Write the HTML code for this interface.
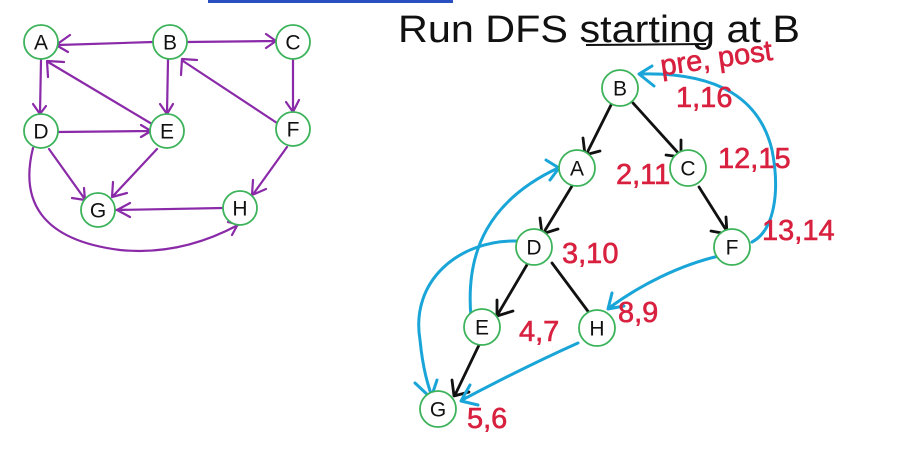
<!DOCTYPE html>
<html><head><meta charset="utf-8"><style>
html,body{margin:0;padding:0;background:#fff;}
svg{display:block;}
.n{fill:#fff;stroke:#3cb35a;stroke-width:1.8;}
.t{font-family:"Liberation Sans",sans-serif;font-size:21px;fill:#111;text-anchor:middle;dominant-baseline:central;}
.p{fill:none;stroke:#8a2aa8;stroke-width:2.2;stroke-linecap:round;stroke-linejoin:round;}
.k{fill:none;stroke:#111;stroke-width:2.8;stroke-linecap:round;stroke-linejoin:round;}
.b{fill:none;stroke:#1aa5d8;stroke-width:3;stroke-linecap:round;stroke-linejoin:round;}
.r{font-family:"Liberation Sans",sans-serif;font-size:29px;fill:#d8203f;stroke:#d8203f;stroke-width:0.6;}
</style></head><body>
<svg width="897" height="449" viewBox="0 0 897 449" xmlns="http://www.w3.org/2000/svg">
<rect x="208" y="0" width="245" height="3" fill="#2a4fc0"/>
<path class="p" d="M153,42 L58,45 M70,35 L56,45 L68,52"/>
<path class="p" d="M187,42 L275,41 M266,34 L276,41 L266,48"/>
<path class="p" d="M41,60 L40,113 M33,104 L40,114 L46,106"/>
<path class="p" d="M168,60 L167,113 M160,104 L167,114 L173,104"/>
<path class="p" d="M293,60 L293,111 M286,102 L293,112 L299,100"/>
<path class="p" d="M152,124 L48,62 M48,77 L47,61 L64,62"/>
<path class="p" d="M277,123 L183,61 M181,75 L182,59 L197,60"/>
<path class="p" d="M58,132 L150,131 M141,125 L151,131 L141,137"/>
<path class="p" d="M49,149 L84,198 M72,198 L85,200 L84,188"/>
<path class="p" d="M157,149 L114,195 M113,182 L112,197 L127,193"/>
<path class="p" d="M287,147 L254,193 M253,180 L252,195 L266,189"/>
<path class="p" d="M223,208 L116,210 M130,203 L117,210 L130,217"/>
<path class="p" d="M33,148 C20,200 40,240 120,250 C170,255 210,240 238,225 M228,222 L238,224 L232,235"/>
<g>
<circle class="n" cx="41" cy="42" r="17"/><text class="t" x="41" y="43">A</text>
<circle class="n" cx="170" cy="42" r="17"/><text class="t" x="170" y="43">B</text>
<circle class="n" cx="293" cy="42" r="17"/><text class="t" x="293" y="43">C</text>
<circle class="n" cx="41" cy="131" r="17"/><text class="t" x="41" y="132">D</text>
<circle class="n" cx="167" cy="131" r="17"/><text class="t" x="167" y="132">E</text>
<circle class="n" cx="293" cy="129" r="17"/><text class="t" x="293" y="130">F</text>
<circle class="n" cx="98" cy="210" r="17"/><text class="t" x="98" y="211">G</text>
<circle class="n" cx="240" cy="208" r="17"/><text class="t" x="240" y="209">H</text>
</g>
<text x="398" y="42" font-family="Liberation Sans,sans-serif" font-size="38" fill="#111" textLength="402" lengthAdjust="spacingAndGlyphs">Run DFS starting at B</text>
<line x1="586" y1="45" x2="706" y2="44" stroke="#111" stroke-width="2"/>
<path class="k" d="M611,105 L587,153 M583,138 L585,155 L600,151"/>
<path class="k" d="M633,103 L680,155 M681,140 L681,157 L666,155"/>
<path class="k" d="M572,186 L544,232 M540,218 L542,234 L558,229"/>
<path class="k" d="M699,187 L728,233 M726,217 L727,234 L711,231"/>
<path class="k" d="M528,263 L498,314 M497,300 L497,316 L513,311"/>
<path class="k" d="M552,263 L590,314"/>
<path class="k" d="M479,345 L455,395 M452,380 L454,396 L469,392"/>
<path class="b" d="M752,242 C775,230 780,190 772,150 C760,100 720,72 640,74 M652,66 L639,74 L654,86"/>
<path class="b" d="M471,317 C465,250 490,200 558,168 M546,160 L559,168 L550,180"/>
<path class="b" d="M516,241 C460,240 410,280 420,340 C423,370 428,385 432,397 M415,383 L431,398 L437,380"/>
<path class="b" d="M719,256 C680,265 640,285 609,308 M612,293 L608,309 L624,306"/>
<path class="b" d="M578,343 C540,360 500,380 462,400 M470,385 L461,401 L478,405"/>
<g>
<circle class="n" cx="620" cy="88" r="18"/><text class="t" x="620" y="89">B</text>
<circle class="n" cx="577" cy="168" r="18"/><text class="t" x="577" y="169">A</text>
<circle class="n" cx="688" cy="168" r="18"/><text class="t" x="688" y="169">C</text>
<circle class="n" cx="534" cy="247" r="18"/><text class="t" x="534" y="248">D</text>
<circle class="n" cx="732" cy="247" r="18"/><text class="t" x="732" y="248">F</text>
<circle class="n" cx="482" cy="327" r="18"/><text class="t" x="482" y="328">E</text>
<circle class="n" cx="597" cy="328" r="18"/><text class="t" x="597" y="329">H</text>
<circle class="n" cx="438" cy="409" r="18"/><text class="t" x="438" y="410">G</text>
</g>
<text class="r" x="660" y="70" font-size="23" transform="rotate(-8 700 60)">pre, post</text>
<text class="r" x="676" y="107">1,16</text>
<text class="r" x="616" y="184">2,11</text>
<text class="r" x="718" y="168">12,15</text>
<text class="r" x="762" y="240">13,14</text>
<text class="r" x="562" y="263">3,10</text>
<text class="r" x="519" y="341">4,7</text>
<text class="r" x="618" y="322">8,9</text>
<text class="r" x="467" y="428">5,6</text>
</svg>
</body></html>
